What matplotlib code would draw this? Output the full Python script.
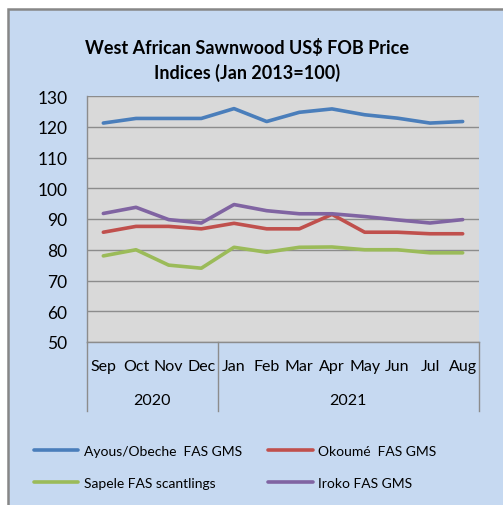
import matplotlib
matplotlib.use("Agg")
import matplotlib.pyplot as plt
from matplotlib.patches import Rectangle
from matplotlib.lines import Line2D

plt.rcParams['font.family'] = ['Lato', 'DejaVu Sans']

months = ["Sep", "Oct", "Nov", "Dec", "Jan", "Feb", "Mar", "Apr", "May", "Jun", "Jul", "Aug"]
years = ["2020", "2021"]
year_spans = [(0, 3), (4, 11)]

ayous = [121.2, 122.7, 122.7, 122.7, 125.9, 121.7, 124.7, 125.8, 123.9, 122.8, 121.2, 121.7]
okoume = [85.7, 87.6, 87.6, 86.8, 88.6, 86.8, 86.8, 91.5, 85.7, 85.7, 85.2, 85.2]
sapele = [78.0, 80.0, 75.0, 74.0, 80.8, 79.2, 80.8, 80.9, 80.0, 80.0, 79.0, 79.0]
iroko = [91.8, 93.8, 89.8, 88.7, 94.7, 92.7, 91.7, 91.7, 90.8, 89.7, 88.7, 89.8]

series = [
    ("Ayous/Obeche  FAS GMS", ayous, "#4A7EBB"),
    ("Okoumé  FAS GMS", okoume, "#C0504D"),
    ("Sapele FAS scantlings", sapele, "#9BBB59"),
    ("Iroko FAS GMS", iroko, "#8064A2"),
]

W, H = 503, 506
fig = plt.figure(figsize=(W / 100, H / 100), dpi=100, facecolor="white")

# outer chart frame (light blue, grey border on top/left)
fig.patches.append(Rectangle((8 / W, -0.05), 1.1, 1 - 10 / H + 0.05, transform=fig.transFigure,
                             facecolor="#C6D9F1", edgecolor="#878787", lw=1.8, zorder=-5))

ax = fig.add_axes([87 / W, 1 - 343 / H, (479 - 87) / W, (343 - 97) / H])
ax.set_facecolor("#D9D9D9")

x = list(range(len(months)))
lines = []
for name, vals, col in series:
    ln, = ax.plot(x, vals, color=col, lw=2.6, label=name, solid_capstyle="round")
    lines.append(ln)

ax.set_xlim(-0.5, 11.5)
ax.set_ylim(50, 130)
ax.set_yticks(range(50, 131, 10))
ax.tick_params(axis="y", length=0, pad=14, labelsize=12.5)
ax.set_xticks(x)
ax.set_xticklabels(months, fontsize=11.5)
ax.tick_params(axis="x", length=0, pad=12)
ax.grid(axis="y", color="#8C8C8C", lw=1)
ax.set_axisbelow(True)
for s in ("top", "right"):
    ax.spines[s].set_visible(False)
for s in ("left", "bottom"):
    ax.spines[s].set_color("#8C8C8C")
    ax.spines[s].set_linewidth(1)

# grouped category axis: separators and year labels
trans = ax.get_xaxis_transform()
for xs in (-0.5, 3.5, 11.5):
    ax.add_line(Line2D([xs, xs], [0, -69 / 246], transform=trans, color="#8C8C8C",
                       lw=1, clip_on=False))
for yr, (a, b) in zip(years, year_spans):
    ax.text((a + b) / 2, -58 / 246, yr, transform=trans, ha="center", va="center",
            fontsize=11.5)

fig.text(247 / W, 1 - 48 / H, "West African Sawnwood US$ FOB Price", ha="center",
         va="center", fontsize=13, fontweight="bold")
fig.text(247 / W, 1 - 73 / H, "Indices (Jan 2013=100)", ha="center", va="center",
         fontsize=13, fontweight="bold")

# legend filled row by row, as in the original
order = [0, 2, 1, 3]
fig.legend([lines[i] for i in order], [series[i][0] for i in order],
           loc="upper left", bbox_to_anchor=(28 / W, 1 - 440 / H), ncol=2, frameon=False,
           fontsize=10, handlelength=3.2, handletextpad=0.4, columnspacing=1.9,
           labelspacing=1.45, borderaxespad=0)

fig.savefig("out.png", dpi=100, facecolor=fig.get_facecolor())
